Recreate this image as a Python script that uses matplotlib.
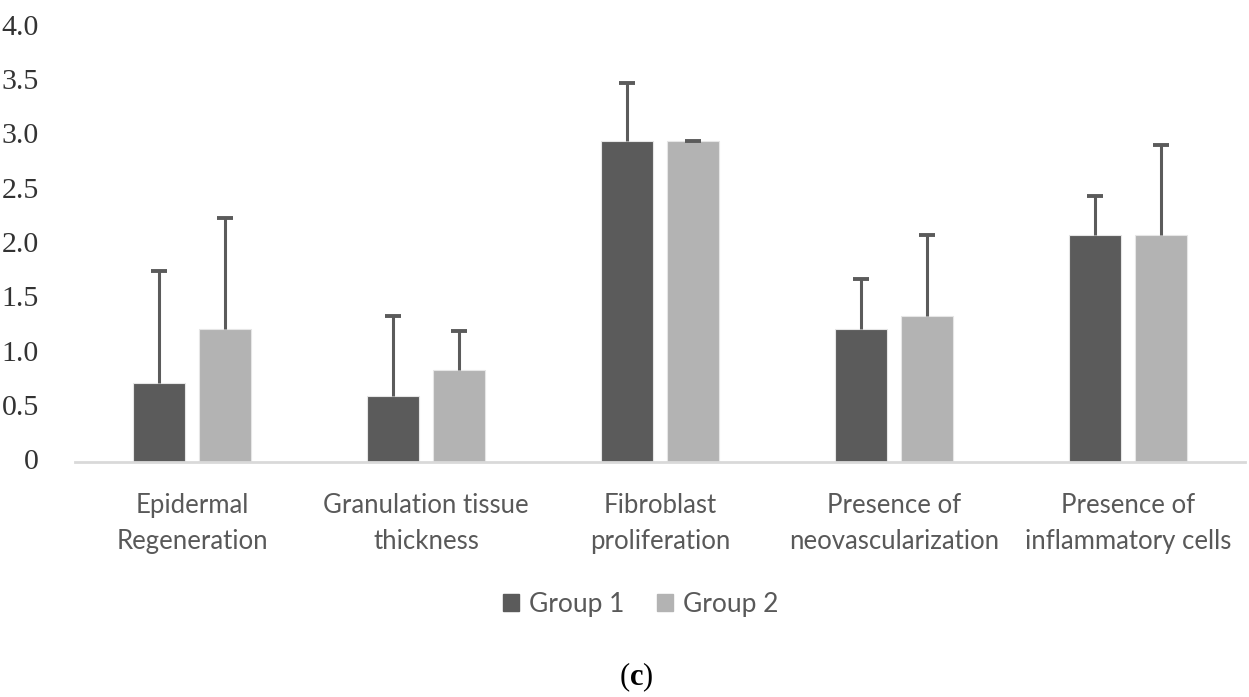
import numpy as np
import matplotlib
matplotlib.use("Agg")
import matplotlib.pyplot as plt
import matplotlib.transforms as mtransforms
from matplotlib.patches import Patch

categories = ["Epidermal\nRegeneration", "Granulation tissue\nthickness",
              "Fibroblast\nproliferation", "Presence of\nneovascularization",
              "Presence of\ninflammatory cells"]
group1 = [0.73, 0.61, 2.96, 1.23, 2.09]
group1_err = [1.03, 0.74, 0.53, 0.46, 0.36]
group2 = [1.23, 0.85, 2.96, 1.35, 2.09]
group2_err = [1.02, 0.36, 0.0, 0.74, 0.83]
yticks = [0, 0.5, 1.0, 1.5, 2.0, 2.5, 3.0, 3.5, 4.0]
ytick_labels = ["0", "0.5", "1.0", "1.5", "2.0", "2.5", "3.0", "3.5", "4.0"]

c1 = "#5b5b5b"
c2 = "#b3b3b3"
txt = "#595959"

plt.rcParams["mathtext.fontset"] = "custom"
plt.rcParams["mathtext.rm"] = "Liberation Serif"
plt.rcParams["mathtext.bf"] = "Liberation Serif:bold"

fig = plt.figure(figsize=(12.49, 6.97), dpi=100)
ax = fig.add_axes([0.060, 0.337, 0.937, 0.623])

x = np.arange(len(categories))
w = 0.222
off = 0.141
cap = 0.034
for xs, vals, errs, col, lab in [(x - off, group1, group1_err, c1, "Group 1"),
                                 (x + off, group2, group2_err, c2, "Group 2")]:
    ax.bar(xs, vals, w, color=col, edgecolor="#e6e6e6", linewidth=0.8, label=lab, zorder=2)
    tops = np.array(vals) + np.array(errs)
    ax.vlines(xs, vals, tops, color=c1, linewidth=2.2, zorder=3)
    ax.hlines(tops, xs - cap, xs + cap, color=c1, linewidth=2.8, zorder=3)

ax.set_xlim(-0.5, len(categories) - 0.5)
ax.set_ylim(0, 4.0)
ax.set_yticks(yticks)
ax.set_yticklabels(ytick_labels, family="Liberation Serif", fontsize=21.5, color="#333333")
ax.tick_params(axis="y", length=0, pad=26)
shift = mtransforms.ScaledTranslation(0, 3 / 100, fig.dpi_scale_trans)
for t in ax.get_yticklabels():
    t.set_transform(t.get_transform() + shift)
ax.set_xticks(x)
ax.set_xticklabels(categories, family="Lato", fontsize=18.5, color=txt, linespacing=1.55)
ax.tick_params(axis="x", length=0, pad=22)

for s in ["top", "right", "left"]:
    ax.spines[s].set_visible(False)
ax.spines["bottom"].set_color("#d9d9d9")
ax.spines["bottom"].set_linewidth(2)

handles = [Patch(color=c1, label="Group 1"), Patch(color=c2, label="Group 2")]
fig.legend(handles=handles, loc="center", bbox_to_anchor=(0.513, 0.133), ncol=2,
           frameon=False, prop={"family": "Lato", "size": 19}, labelcolor=txt,
           handlelength=0.62, handleheight=0.62, handletextpad=0.4, columnspacing=1.2)

fig.text(0.509, 0.004, r"($\mathbf{c}$)", family="Liberation Serif", fontsize=22,
         ha="center", va="bottom", color="black")

fig.savefig("out.png", dpi=100)
